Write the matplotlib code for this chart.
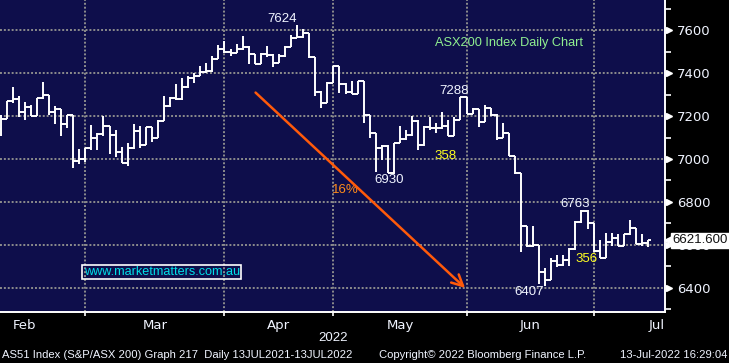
import numpy as np
import matplotlib.pyplot as plt
from matplotlib.collections import LineCollection
import matplotlib.transforms as mtransforms

# ASX200 daily bars, mid Feb - mid Jul 2022
opens = [7140, 7186, 7270, 7279, 7219, 7242, 7200, 7284, 7298, 7219,
         7233, 7163, 7205, 6991, 7000, 7051, 7098, 7116, 7153, 7112,
         7033, 6981, 7051, 7130, 7065, 7149, 7098, 7177, 7247, 7284,
         7279, 7335, 7377, 7386, 7405, 7409, 7465, 7512, 7498, 7493,
         7512, 7521, 7488, 7442, 7488, 7484, 7447, 7479, 7521, 7563,
         7567, 7586, 7474, 7312, 7260, 7353, 7433, 7349, 7312, 7302,
         7363, 7205, 7121, 7051, 7060, 6935, 7074, 7093, 7112, 7177,
         7065, 7149, 7144, 7144, 7153, 7107, 7181, 7288, 7209, 7233,
         7172, 7237, 7205, 7098, 7121, 7014, 6935, 6688, 6595, 6600,
         6474, 6437, 6526, 6507, 6530, 6581, 6707, 6758, 6702, 6572,
         6540, 6614, 6633, 6595, 6651, 6679, 6605, 6609]
highs = [7205, 7270, 7335, 7293, 7265, 7251, 7284, 7358, 7298, 7247,
         7233, 7205, 7205, 7047, 7051, 7158, 7121, 7200, 7153, 7135,
         7056, 7074, 7163, 7153, 7149, 7149, 7181, 7293, 7288, 7349,
         7377, 7386, 7400, 7433, 7447, 7479, 7530, 7549, 7512, 7535,
         7572, 7526, 7488, 7493, 7526, 7488, 7488, 7526, 7577, 7624,
         7605, 7586, 7474, 7316, 7358, 7433, 7433, 7353, 7363, 7363,
         7363, 7205, 7121, 7065, 7065, 7074, 7153, 7135, 7200, 7181,
         7153, 7195, 7167, 7219, 7181, 7195, 7288, 7288, 7237, 7233,
         7251, 7237, 7209, 7167, 7121, 7014, 6935, 6688, 6688, 6600,
         6493, 6540, 6553, 6553, 6586, 6712, 6763, 6763, 6702, 6623,
         6656, 6656, 6651, 6651, 6716, 6679, 6651, 6623]
lows = [7107, 7186, 7260, 7195, 7181, 7200, 7200, 7279, 7205, 7163,
        7107, 7144, 6958, 6977, 6986, 7042, 7042, 7107, 7023, 7009,
        6981, 6967, 7047, 7051, 7065, 7079, 7098, 7177, 7242, 7274,
        7274, 7330, 7353, 7386, 7400, 7405, 7465, 7493, 7479, 7493,
        7507, 7442, 7442, 7442, 7474, 7428, 7447, 7474, 7521, 7563,
        7563, 7470, 7293, 7237, 7260, 7353, 7307, 7302, 7302, 7302,
        7167, 7098, 6940, 6995, 6935, 6930, 7074, 7088, 7107, 7042,
        7060, 7135, 7121, 7140, 7107, 7107, 7181, 7209, 7209, 7149,
        7172, 7200, 7088, 7098, 7014, 6930, 6567, 6591, 6591, 6419,
        6407, 6437, 6498, 6502, 6502, 6577, 6702, 6674, 6567, 6540,
        6540, 6595, 6595, 6595, 6647, 6605, 6595, 6591]
closes = [7186, 7270, 7279, 7219, 7242, 7200, 7284, 7298, 7219, 7233,
          7163, 7205, 6991, 7000, 7051, 7098, 7116, 7153, 7112, 7033,
          6981, 7051, 7130, 7065, 7149, 7098, 7177, 7247, 7284, 7279,
          7335, 7377, 7386, 7405, 7409, 7465, 7512, 7498, 7493, 7512,
          7521, 7488, 7442, 7488, 7484, 7447, 7479, 7521, 7563, 7567,
          7586, 7474, 7312, 7260, 7353, 7433, 7349, 7312, 7302, 7363,
          7205, 7121, 7051, 7060, 6935, 7074, 7093, 7112, 7177, 7065,
          7149, 7144, 7144, 7153, 7107, 7181, 7288, 7209, 7233, 7172,
          7237, 7205, 7098, 7121, 7014, 6935, 6688, 6595, 6600, 6474,
          6437, 6526, 6507, 6530, 6581, 6707, 6758, 6702, 6572, 6540,
          6614, 6633, 6595, 6651, 6679, 6605, 6609, 6621.6]

month_starts = [14, 37, 55, 77, 98]          # bar index of first trading day
month_names = ['Feb', 'Mar', 'Apr', 'May', 'Jun', 'Jul']
month_mid = [4, 25.5, 46, 66, 87.5, 108.5]
last_price = 6621.6

navy = '#0e0e4b'
white = '#f0f4ff'

fig = plt.figure(figsize=(7.29, 3.63), dpi=100, facecolor='black')
ax = fig.add_axes([0, 51 / 363, 665 / 729, 312 / 363], facecolor=navy)
plt.rcParams['font.family'] = ['Liberation Sans', 'DejaVu Sans']

#%% bars: high-low line, open tick left, close tick right
segs = []
for i in range(len(closes)):
    segs.append([(i, lows[i]), (i, highs[i])])
    segs.append([(i - 0.5, opens[i]), (i, opens[i])])
    segs.append([(i, closes[i]), (i + 0.5, closes[i])])
ax.add_collection(LineCollection(segs, colors='white', linewidths=1.4, zorder=3))

ax.set_xlim(-0.1, 109.8)
ax.set_ylim(6288, 7740)

#%% axes styling
for s in ['top', 'left']:
    ax.spines[s].set_visible(False)
for s in ['right', 'bottom']:
    ax.spines[s].set_color('white')
    ax.spines[s].set_linewidth(1.4)

ax.yaxis.tick_right()
ax.set_yticks(np.arange(6400, 7601, 200))
ax.set_yticks(np.arange(6300, 7701, 200), minor=True)
ax.tick_params(axis='y', which='major', length=0, pad=8.5, labelsize=9.5, labelcolor=white)
ax.tick_params(axis='y', which='minor', length=4, width=1.2, color='white', direction='out')

ax.set_xticks(month_starts)
ax.set_xticklabels([])
ax.set_xticks(month_mid, minor=True)
ax.set_xticklabels(month_names, minor=True)
ax.tick_params(axis='x', which='major', length=3, width=1.2, color='white', direction='out')
ax.tick_params(axis='x', which='minor', length=0, pad=5, labelsize=9.5, labelcolor=white)

ax.grid(which='major', color='#8c8c8c', linestyle=(0, (1, 1)), linewidth=1.4)

# triangle markers on major y ticks
trans = mtransforms.blended_transform_factory(ax.transAxes, ax.transData)
yt = np.arange(6400, 7601, 200)
ax.plot([1.006] * len(yt), yt, marker='>', ms=5, color='white', ls='none',
        transform=trans, clip_on=False, zorder=5)

# last price box
ax.plot([1.006], [last_price], marker='<', ms=7, color='white', ls='none',
        transform=trans, clip_on=False, zorder=11)
ax.text(1.011, last_price, '%.3f' % last_price, transform=trans, va='center', ha='left',
        fontsize=9.5, color='#101010', clip_on=False, zorder=12,
        bbox=dict(boxstyle='square,pad=0.12', fc='white', ec='white'))

#%% annotations
ax.text(46.5, 7624, '7624', color=white, fontsize=9.5, ha='center', va='bottom')
ax.text(75, 7288, '7288', color=white, fontsize=9.5, ha='center', va='bottom')
ax.text(64.2, 6930, '6930', color=white, fontsize=9.5, ha='center', va='top')
ax.text(95, 6763, '6763', color=white, fontsize=9.5, ha='center', va='bottom')
ax.text(87.4, 6407, '6407', color=white, fontsize=9.5, ha='center', va='top')
ax.text(73.6, 7015, '358', color='#ffff20', fontsize=9.5, ha='center', va='center')
ax.text(96.8, 6535, '356', color='#ffff20', fontsize=9.5, ha='center', va='center')
ax.text(57, 6855, '16%', color='#ff8c1a', fontsize=9.5, ha='center', va='center')
ax.text(0.765, 0.862, 'ASX200 Index Daily Chart', transform=ax.transAxes, color='#90f090',
        fontsize=9.2, ha='center', va='center')
ax.text(0.243, 0.128, 'www.marketmatters.com.au', transform=ax.transAxes, color='#00e0e8',
        fontsize=9.1, ha='center', va='center',
        bbox=dict(boxstyle='square,pad=0.1', fc='none', ec='white', lw=1.2))

ax.annotate('', xy=(77.1, 6391), xytext=(41.8, 7318),
            arrowprops=dict(arrowstyle='->,head_length=0.8,head_width=0.4',
                            color='#ff5a0a', lw=1.8))

#%% footer
fig.text(333 / 729, 1 - 338 / 363, '2022', color=white, fontsize=9.5, ha='center', va='center')
fig.text(2 / 729, 1 - 355 / 363, 'AS51 Index (S&P/ASX 200) Graph 217  Daily 13JUL2021-13JUL2022',
         color=white, fontsize=8.1, ha='left', va='center')
fig.text(379 / 729, 1 - 355 / 363, 'Copyright\u00a9 2022 Bloomberg Finance L.P.',
         color=white, fontsize=8.1, ha='left', va='center')
fig.text(727 / 729, 1 - 355 / 363, '13-Jul-2022 16:29:04',
         color=white, fontsize=8.1, ha='right', va='center')

plt.savefig('out.png', dpi=100, facecolor='black')
